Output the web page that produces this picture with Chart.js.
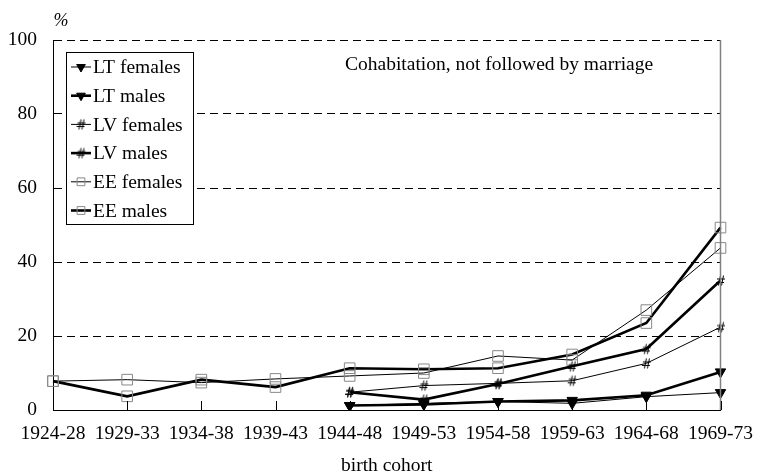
<!DOCTYPE html>
<html>
<head>
<meta charset="utf-8">
<script src="https://cdn.jsdelivr.net/npm/chart.js@4/dist/chart.umd.min.js"></script>
<style>
  html, body { margin: 0; padding: 0; background: #fff; }
  #wrap { width: 765px; height: 476px; }
</style>
</head>
<body>
<div id="wrap"><canvas id="cohabChart" width="765" height="476"></canvas></div>
<script>
// birth cohorts on the x axis
const cohorts = ['1924-28', '1929-33', '1934-38', '1939-43', '1944-48',
                 '1949-53', '1954-58', '1959-63', '1964-68', '1969-73'];

// share (%) cohabiting, not followed by marriage
const ltFemales = [null, null, null, null, 1.2, 1.8, 2.3, 1.8, 3.6, 4.7];
const ltMales   = [null, null, null, null, 1.2, 1.5, 2.3, 2.6, 4.0, 10.3];
const lvFemales = [null, null, null, null, 4.8, 6.6, 7.2, 7.9, 12.6, 22.4];
const lvMales   = [null, null, null, null, 4.8, 2.8, 7.0, 11.8, 16.5, 35.0];
const eeFemales = [7.8, 8.2, 7.4, 8.4, 9.2, 10.0, 14.6, 13.5, 27.0, 43.8];
const eeMales   = [7.8, 3.7, 8.2, 6.2, 11.3, 11.0, 11.3, 15.0, 23.5, 49.3];

const yTicks = [0, 20, 40, 60, 80, 100];

const serif = '"Liberation Serif", "Times New Roman", serif';

// '#' marker used for the LV series
function hashMarker() {
    const c = document.createElement('canvas');
    c.width = 11; c.height = 13;
    const g = c.getContext('2d');
    g.strokeStyle = '#000';
    g.lineWidth = 1;
    g.beginPath();
    g.moveTo(5.5, 1.5); g.lineTo(3.5, 11.5);
    g.moveTo(8.5, 1.5); g.lineTo(6.5, 11.5);
    g.moveTo(2, 5); g.lineTo(10, 5);
    g.moveTo(1, 8.5); g.lineTo(9, 8.5);
    g.stroke();
    return c;
}
const hash = hashMarker();

function series(label, data, thick, marker) {
    const ds = {
        label: label,
        data: data,
        borderColor: '#000',
        borderWidth: thick ? 2.6 : 1,
        tension: 0,
        fill: false
    };
    if (marker === 'tri') {
        ds.pointStyle = 'triangle';
        ds.pointRotation = 180;
        ds.pointRadius = 6;
        ds.pointBackgroundColor = '#000';
        ds.pointBorderColor = '#000';
        ds.pointBorderWidth = 1;
        ds.legendRadius = 5;
    } else if (marker === 'hash') {
        ds.pointStyle = hash;
        ds.pointRadius = 6;
        ds.pointBackgroundColor = '#000';
        ds.pointBorderColor = '#000';
        ds.legendRadius = 6;
    } else {
        ds.pointStyle = 'rect';
        ds.pointRadius = 7.5;
        ds.pointBackgroundColor = 'rgba(0,0,0,0)';
        ds.pointBorderColor = '#888';
        ds.pointBorderWidth = 1;
        ds.legendRadius = 5.5;
    }
    return ds;
}

// boxed legend, short inner ticks, right frame and free texts
const decorations = {
    id: 'decorations',
    afterDraw(chart) {
        const ctx = chart.ctx;
        const area = chart.chartArea;
        const x = chart.scales.x;
        ctx.save();

        // right frame line
        ctx.strokeStyle = '#808080';
        ctx.lineWidth = 1.5;
        ctx.beginPath();
        ctx.moveTo(area.right, area.top);
        ctx.lineTo(area.right, area.bottom);
        ctx.stroke();

        // category ticks pointing into the plot
        ctx.strokeStyle = '#000';
        ctx.lineWidth = 1;
        cohorts.forEach((c, i) => {
            const px = Math.round(x.getPixelForValue(i)) + 0.5;
            ctx.beginPath();
            ctx.moveTo(px, area.bottom);
            ctx.lineTo(px, area.bottom - 9);
            ctx.stroke();
        });

        // legend box
        const lx = 66, ly = 52, lw = 127, lh = 172;
        ctx.fillStyle = '#fff';
        ctx.fillRect(lx, ly, lw, lh);
        ctx.strokeStyle = '#000';
        ctx.lineWidth = 1;
        ctx.strokeRect(lx + 0.5, ly + 0.5, lw, lh);
        ctx.font = '19.5px ' + serif;
        ctx.textBaseline = 'middle';
        chart.data.datasets.forEach((ds, i) => {
            const y = 67 + i * 28.7;
            ctx.strokeStyle = '#000';
            ctx.lineWidth = ds.borderWidth;
            ctx.beginPath();
            ctx.moveTo(71, y);
            ctx.lineTo(91, y);
            ctx.stroke();
            ctx.fillStyle = ds.pointBackgroundColor;
            ctx.strokeStyle = ds.pointBorderColor;
            ctx.lineWidth = 1;
            if (Chart.helpers && Chart.helpers.drawPoint) {
                Chart.helpers.drawPoint(ctx, {
                    pointStyle: ds.pointStyle,
                    radius: ds.legendRadius,
                    rotation: ds.pointRotation || 0,
                    borderWidth: 1
                }, 81, y);
            }
            ctx.fillStyle = '#000';
            ctx.fillText(ds.label, 93, y + 1);
        });

        // panel caption, unit and axis title
        ctx.fillStyle = '#000';
        ctx.font = '19.5px ' + serif;
        ctx.textAlign = 'left';
        ctx.fillText('Cohabitation, not followed by marriage', 345, 65);
        ctx.textAlign = 'center';
        ctx.fillText('birth cohort', (area.left + area.right) / 2, 466);
        ctx.font = 'italic 18px ' + serif;
        ctx.fillText('%', 61, 21);
        ctx.restore();
    }
};

const ctx = document.getElementById('cohabChart').getContext('2d');

new Chart(ctx, {
    type: 'line',
    data: {
        labels: cohorts,
        datasets: [
            series('LT females', ltFemales, false, 'tri'),
            series('LT males', ltMales, true, 'tri'),
            series('LV females', lvFemales, false, 'hash'),
            series('LV males', lvMales, true, 'hash'),
            series('EE females', eeFemales, false, 'sq'),
            series('EE males', eeMales, true, 'sq')
        ]
    },
    options: {
        responsive: false,
        animation: false,
        devicePixelRatio: 1,
        events: [],
        layout: { padding: { top: 40, right: 34, left: 0, bottom: 0 } },
        plugins: {
            legend: { display: false },
            tooltip: { enabled: false }
        },
        scales: {
            x: {
                offset: false,
                grid: { display: false, drawTicks: false },
                border: { display: true, color: '#000', width: 1 },
                ticks: {
                    color: '#000',
                    font: { family: serif, size: 19.5 },
                    padding: 12,
                    maxRotation: 0,
                    autoSkip: false
                },
                afterFit(scale) { scale.height = 66; }
            },
            y: {
                min: 0,
                max: 100,
                afterBuildTicks(scale) { scale.ticks = yTicks.map(v => ({ value: v })); },
                grid: { color: '#000', lineWidth: 1, drawTicks: false },
                border: { display: true, color: '#000', width: 1, dash: [8, 5] },
                ticks: {
                    color: '#000',
                    font: { family: serif, size: 19.5 },
                    padding: 16
                },
                afterFit(scale) { scale.width = 53; }
            }
        }
    },
    plugins: [decorations]
});
</script>
</body>
</html>
